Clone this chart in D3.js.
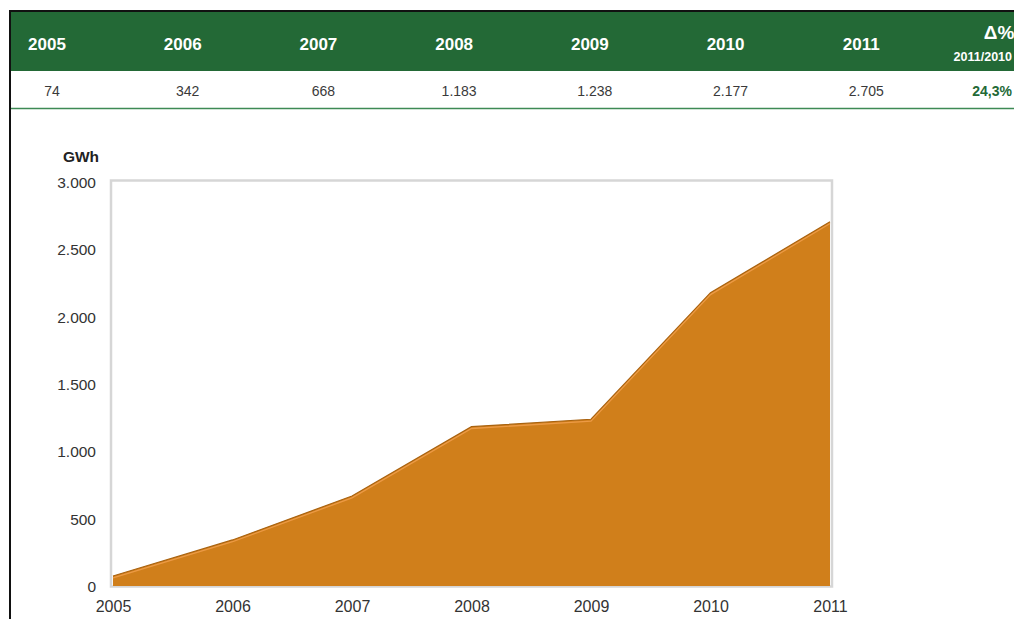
<!DOCTYPE html>
<html>
<head>
<meta charset="utf-8">
<script src="https://cdn.jsdelivr.net/npm/d3@7"></script>
<style>
  html, body { margin: 0; padding: 0; background: #fff; }
  svg { display: block; }
</style>
</head>
<body>
<svg id="chart" width="1014" height="619"></svg>
<script>
// Annual production (GWh)
const years = [2005, 2006, 2007, 2008, 2009, 2010, 2011];
const production = [74, 342, 668, 1183, 1238, 2177, 2705];
const changeHeader = "Δ%";
const changeSubHeader = "2011/2010";
const changeValue = "24,3%";
const yTicks = [0, 500, 1000, 1500, 2000, 2500, 3000];
const unitLabel = "GWh";

const svg = d3.select("#chart");
const W = 1014, H = 619;
const font = "'Liberation Sans', Arial, sans-serif";
const green = "#236936";
const fmt = v => d3.format(",")(v).replace(/,/g, ".");

// ---- Summary table ----
const cols = years.map(String).concat(["delta"]);
const colX = d3.scalePoint().domain(cols).range([47, 997]);

svg.append("rect").attr("x", 11).attr("y", 12).attr("width", W - 11).attr("height", 59).attr("fill", green);

const head = svg.append("g").attr("font-family", font).attr("font-weight", "bold").attr("fill", "#fff").attr("text-anchor", "middle");
head.selectAll("text.yr").data(years).join("text")
  .attr("class", "yr")
  .attr("x", d => colX(String(d)))
  .attr("y", 50)
  .attr("font-size", 17)
  .text(d => d);
head.append("text").attr("x", colX("delta") + 2).attr("y", 39).attr("font-size", 19).text(changeHeader);
head.append("text").attr("x", W - 2).attr("y", 61).attr("font-size", 12.5).attr("text-anchor", "end").text(changeSubHeader);

const vals = svg.append("g").attr("font-family", font).attr("font-size", 14).attr("text-anchor", "middle");
vals.selectAll("text").data(production).join("text")
  .attr("x", (d, i) => colX(String(years[i])) + 5)
  .attr("y", 96)
  .attr("fill", "#3a3a3a")
  .text(d => fmt(d));
vals.append("text").attr("x", W - 2).attr("y", 96).attr("text-anchor", "end")
  .attr("fill", green).attr("font-weight", "bold").text(changeValue);

svg.append("line").attr("x1", 11).attr("x2", W).attr("y1", 108.5).attr("y2", 108.5).attr("stroke", "#3d8a55").attr("stroke-width", 1.5);

// Frame lines
svg.append("line").attr("x1", 9).attr("x2", W).attr("y1", 11).attr("y2", 11).attr("stroke", "#111").attr("stroke-width", 2);
svg.append("line").attr("x1", 10).attr("x2", 10).attr("y1", 10).attr("y2", H).attr("stroke", "#111").attr("stroke-width", 2);

// ---- Area chart ----
const x = d3.scalePoint().domain(years).range([113, 830]);
const y = d3.scaleLinear().domain([0, 3000]).range([586, 182]);

svg.append("rect").attr("x", 111).attr("y", 180.5).attr("width", 721).attr("height", 406)
  .attr("fill", "#fff").attr("stroke", "#d6d6d6").attr("stroke-width", 2.5);

const series = years.map((yr, i) => ({ yr, v: production[i] }));
const area = d3.area().x(d => x(d.yr)).y0(y(0)).y1(d => y(d.v));
const line = d3.line().x(d => x(d.yr)).y(d => y(d.v));

svg.append("path").datum(series).attr("d", area).attr("fill", "#d07f1b");
svg.append("path").datum(series).attr("d", line).attr("fill", "none").attr("stroke", "#a9620f").attr("stroke-width", 1.2);
svg.append("path").datum(series).attr("d", line).attr("transform", "translate(0,1.8)")
  .attr("fill", "none").attr("stroke", "#ec9a45").attr("stroke-width", 1.3);

// Y axis labels
const yAxis = svg.append("g").attr("transform", "translate(96,0)")
  .call(d3.axisLeft(y).tickValues(yTicks).tickSize(0).tickPadding(0).tickFormat(fmt));
yAxis.select(".domain").remove();
yAxis.selectAll("text").attr("font-family", font).attr("font-size", 15.5).attr("fill", "#333").attr("dy", "0.35em");

// X axis labels
const xAxis = svg.append("g").attr("transform", "translate(0,601)")
  .call(d3.axisBottom(x).tickSize(0).tickPadding(0).tickFormat(d => d));
xAxis.select(".domain").remove();
xAxis.selectAll("text").attr("font-family", font).attr("font-size", 16).attr("fill", "#333").attr("dy", "0.71em");

svg.append("text").attr("x", 81).attr("y", 162).attr("text-anchor", "middle")
  .attr("font-family", font).attr("font-weight", "bold").attr("font-size", 15.5).attr("fill", "#222").text(unitLabel);
</script>
</body>
</html>
